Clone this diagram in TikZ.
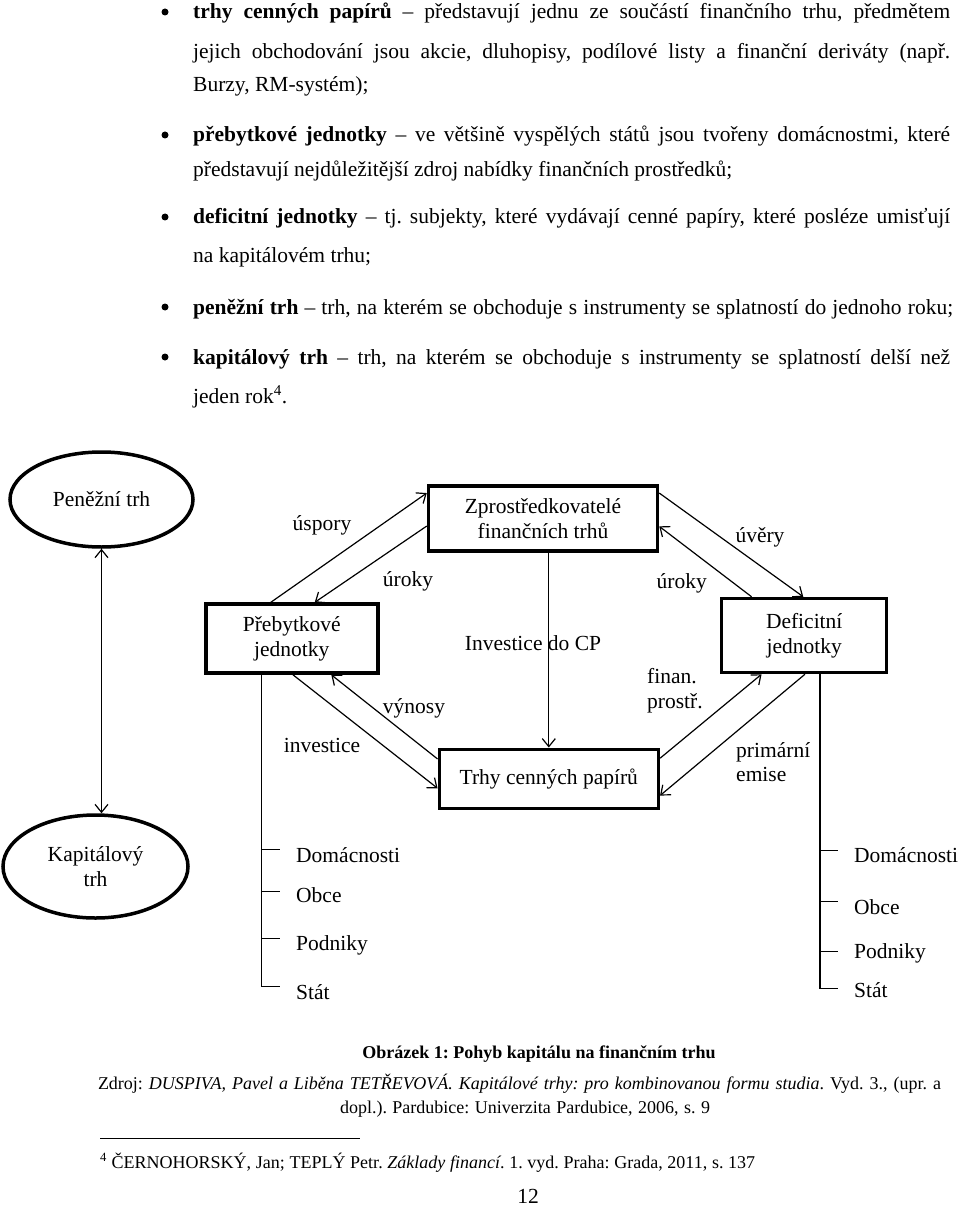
\documentclass[tikz,border=0pt]{standalone}
\usepackage{fontspec}
\setmainfont{Liberation Serif}
\usepackage{graphicx}
\usetikzlibrary{arrows.meta,shapes.geometric,calc}
\frenchspacing
\newsavebox\fitbox
\newcommand\fitto[2]{\sbox\fitbox{#2}\ifdim\wd\fitbox>#1\relax\resizebox{#1}{\height}{\usebox\fitbox}\else\makebox[#1][s]{#2}\fi}
\begin{document}
\begin{tikzpicture}[x=1pt,y=-1pt,
  every node/.style={inner sep=0pt, font=\fontsize{21.5}{24.7}\selectfont},
  >={Straight Barb[length=8pt,width=13pt]},
  box/.style={draw, line width=3.5pt, align=center},
  oval/.style={draw, ellipse, line width=3.5pt, align=center},
  arr/.style={line width=1.2pt, ->},
  thinline/.style={line width=1.2pt},
  bodytext/.style={anchor=base west},
  bullet/.style={circle, fill, minimum size=7pt},
  small/.style={font=\fontsize{18}{20}\selectfont},
]
\fill[white] (0,0) rectangle (960,1206);
\useasboundingbox (0,0) rectangle (960,1206);

% ---------- body text ----------
\node[bullet] (b1) at (165,12) {};
\node[bodytext] (l1) at (193,19) {\fitto{757pt}{\textbf{trhy cenných papírů} – představují jednu ze součástí finančního trhu, předmětem}};
\node[bodytext] (l2) at (193,59) {\fitto{757pt}{jejich obchodování jsou akcie, dluhopisy, podílové listy a finanční deriváty (např.}};
\node[bodytext] (l3) at (193,92) {Burzy, RM-systém);};
\node[bullet] (b2) at (165,135) {};
\node[bodytext] (l4) at (193,142) {\fitto{757pt}{\textbf{přebytkové jednotky} – ve většině vyspělých států jsou tvořeny domácnostmi, které}};
\node[bodytext] (l5) at (193,177) {představují nejdůležitější zdroj nabídky finančních prostředků;};
\node[bullet] (b3) at (165,217) {};
\node[bodytext] (l6) at (193,224) {\fitto{757pt}{\textbf{deficitní jednotky} – tj. subjekty, které vydávají cenné papíry, které posléze umisťují}};
\node[bodytext] (l7) at (193,262) {na kapitálovém trhu;};
\node[bullet] (b4) at (165,307) {};
\node[bodytext] (l8) at (193,314) {\fitto{760pt}{\textbf{peněžní trh} – trh, na kterém se obchoduje s instrumenty se splatností do jednoho roku;}};
\node[bullet] (b5) at (165,357) {};
\node[bodytext] (l9) at (193,364) {\fitto{757pt}{\textbf{kapitálový trh} – trh, na kterém se obchoduje s instrumenty se splatností delší než}};
\node[bodytext] (l10) at (193,403) {jeden rok\textsuperscript{4}.};

% ---------- diagram ----------
\node[oval, minimum width=183pt, minimum height=95pt] (pen) at (101.5,499.5) {Peněžní trh};
\node[oval, minimum width=185pt, minimum height=103pt] (kap) at (95.5,866.5) {Kapitálový\\trh};
\draw[thinline, <->] (pen.south) -- (pen.south |- kap.north);

\node[box, minimum width=229pt, minimum height=65pt] (zp) at (543,518.3) {Zprostředkovatelé\\finančních trhů};
\node[box, minimum width=172pt, minimum height=69pt] (pj) at (291.8,638.6) {Přebytkové\\jednotky};
\node[box, minimum width=165pt, minimum height=74pt] (dj) at (804.2,635.5) {Deficitní\\jednotky};
\node[box, minimum width=219pt, minimum height=59pt] (tcp) at (548.8,778.8) {Trhy cenných papírů};

\draw[arr] ([xshift=66.7pt]pj.north west) -- ([yshift=-9pt]zp.north west);
\draw[arr] ([yshift=-42pt]zp.north west) -- ([xshift=110.7pt]pj.north west);
\draw[arr] ([xshift=89pt]pj.south west) -- ([yshift=-40.7pt]tcp.north west);
\draw[arr] ([yshift=-11.4pt]tcp.north west) -- ([xshift=127.3pt]pj.south west);
\draw[arr] ([yshift=-9pt]zp.north east) -- ([xshift=83.3pt]dj.north west);
\draw[arr] ([xshift=31.6pt]dj.north west) -- ([yshift=-42.3pt]zp.north east);
\draw[arr] ([yshift=-10.7pt]tcp.north east) -- ([xshift=41.6pt]dj.south west);
\draw[arr] ([xshift=85pt]dj.south west) -- ([yshift=-48pt]tcp.north east);
\draw[arr] (zp.south -| tcp.north) -- (tcp.north);

\node (uspory) at (322,525) {úspory};
\node (urokyL) at (408,581) {úroky};
\node (invest) at (322,745) {investice};
\node (vynosy) at (414,708) {výnosy};
\node (icp) at (533,643) {Investice do CP};
\node (uvery) at (760,537) {úvěry};
\node (urokyR) at (681.7,583) {úroky};
\node[anchor=west, align=left] (finan) at (647,691) {finan.\\prostř.};
\node[anchor=west, align=left] (prim) at (736,762) {primární\\emise};

% left tree
\coordinate (lt) at ([xshift=57.3pt]pj.south west);
\node[anchor=west] (lD) at (296,855) {Domácnosti};
\node[anchor=west] (lO) at (296,895) {Obce};
\node[anchor=west] (lP) at (296,945) {Podniky};
\node[anchor=west] (lS) at (296,991.7) {Stát};
\draw[thinline] (lt) -- (lt |- 0,986.7) -- ++(18.4,0);
\draw[thinline] (lt |- 0,849.3) -- ++(18.4,0);
\draw[thinline] (lt |- 0,891.7) -- ++(18.4,0);
\draw[thinline] (lt |- 0,938.3) -- ++(18.4,0);

% right tree
\coordinate (rt) at ([xshift=100pt]dj.south west);
\node[anchor=west] (rD) at (854,855) {Domácnosti};
\node[anchor=west] (rO) at (854,906.7) {Obce};
\node[anchor=west] (rP) at (854,953.3) {Podniky};
\node[anchor=west] (rS) at (854,990) {Stát};
\draw[thinline] (rt) -- (rt |- 0,988.3) -- ++(18.3,0);
\draw[thinline] (rt |- 0,850.7) -- ++(18.3,0);
\draw[thinline] (rt |- 0,901.7) -- ++(18.3,0);
\draw[thinline] (rt |- 0,951.7) -- ++(18.3,0);

% ---------- caption, source, footnote ----------
\node[anchor=base, font=\fontsize{18}{20}\selectfont\bfseries] (cap) at (539,1058) {Obrázek 1: Pohyb kapitálu na finančním trhu};
\node[anchor=base, small] (src1) at (519.5,1089) {\fitto{843pt}{Zdroj: \textit{DUSPIVA, Pavel a Liběna TETŘEVOVÁ. Kapitálové trhy: pro kombinovanou formu studia}. Vyd. 3., (upr. a}};
\node[anchor=base, small] (src2) at (525,1113) {\fitto{370pt}{dopl.). Pardubice: Univerzita Pardubice, 2006, s. 9}};
\draw[line width=1pt] (100,1138) -- (360,1138);
\node[anchor=base west, small] (fn) at (100,1168) {\fitto{655pt}{\textsuperscript{4} ČERNOHORSKÝ, Jan; TEPLÝ Petr. \textit{Základy financí}. 1. vyd. Praha: Grada, 2011, s. 137}};
\node[anchor=base] (pg) at (528,1203) {12};
\end{tikzpicture}
\end{document}
